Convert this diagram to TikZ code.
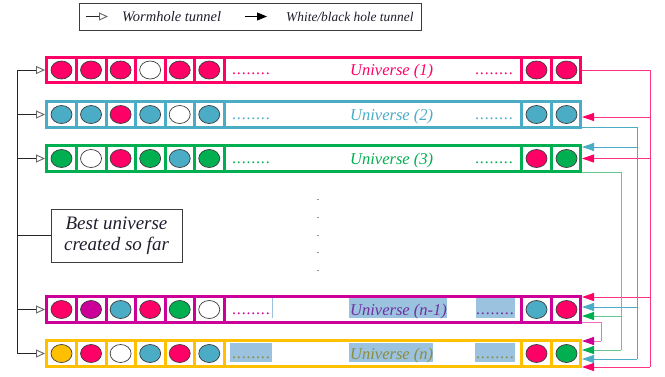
\documentclass[tikz,border=0pt]{standalone}
\usepackage{fontspec}
\setmainfont{Liberation Serif}
\newfontfamily\dotfont[LetterSpace=5.0]{Liberation Serif}
\usetikzlibrary{arrows.meta,shapes.geometric}
\definecolor{cpink}{RGB}{255,0,102}
\definecolor{cblue}{RGB}{75,172,198}
\definecolor{cgreen}{RGB}{0,176,80}
\definecolor{cmag}{RGB}{204,0,153}
\definecolor{cgold}{RGB}{255,192,0}
\definecolor{cpurple}{RGB}{112,48,160}
\definecolor{colive}{RGB}{140,140,60}
\definecolor{hl}{RGB}{155,194,222}
\definecolor{txt}{RGB}{30,30,45}
\definecolor{lpink}{RGB}{255,51,133}
\definecolor{lgreen}{RGB}{100,200,140}
\definecolor{lmag}{RGB}{240,110,200}
\definecolor{edge}{RGB}{60,60,60}
\newcommand\urow[4]{%
  \node[rowbox=#3] (#1) at (313.5,#2) {};
  \foreach \xx in {76.5,106,135.5,165,194.5,224,521.5,551.5}
    \draw[line width=3pt,#3] (\xx,#2-12.75) -- (\xx,#2+12.75);
  \foreach \c [count=\i] in {#4}{
    \pgfmathsetmacro\bx{\i<7 ? 61.5+29.55*(\i-1) : 536.5+30*(\i-7)}
    \node[ball=\c] (#1b\i) at (\bx,#2) {};
  }%
}
\begin{document}
\begin{tikzpicture}[x=1pt,y=-1pt,
  rowbox/.style={draw=#1, line width=3pt, minimum width=534pt, minimum height=25.5pt, inner sep=0pt, fill=white},
  ball/.style={ellipse, minimum width=21pt, minimum height=18pt, inner sep=0pt, draw=edge, line width=0.7pt, fill=#1},
  utext/.style={text=#1, font=\itshape\fontsize{16.5}{18}\selectfont, inner sep=0pt, anchor=base west},
  dtext/.style={text=#1, font=\dotfont\fontsize{16}{18}\selectfont, inner sep=0pt, anchor=base west},
  legtext/.style={text=txt, font=\itshape\fontsize{#1}{16}\selectfont, inner sep=0pt, anchor=west},
  worm/.style={draw=black!85, line width=0.9pt, -{Triangle[open,length=9pt,width=8pt,color=black!60,fill=white]}},
  tree/.style={draw=black!85, line width=0.9pt},
  conn/.style={draw=#1, line width=0.9pt},
  tip/.style={-{Triangle[length=12pt,width=8pt,color=#1]}},
  vdot/.style={font=\fontsize{10}{10}\selectfont, text=txt, inner sep=0pt}
]
\useasboundingbox (0,0) rectangle (665,376);

% legend
\node[draw=edge, line width=0.9pt, minimum width=342pt, minimum height=27pt, inner sep=0pt] (leg) at (250,16.5) {};
\coordinate (lw1) at (86,16.5);
\coordinate (lw2) at (108,16.5);
\coordinate (lb1) at (245,16.5);
\coordinate (lb2) at (267,16.5);
\draw[worm] (lw1) -- (lw2);
\draw[draw=black, line width=0.9pt, -{Triangle[length=10pt,width=8pt,color=black]}] (lb1) -- (lb2);
\node[legtext=14.5] (legw) at (122,17) {Wormhole tunnel};
\node[legtext=13.4] (legb) at (286,17) {White/black hole tunnel};

% rows
\urow{r1}{70}{cpink}{cpink,cpink,cpink,white,cpink,cpink,cpink,cpink}
\urow{r2}{114.5}{cblue}{cblue,cblue,cpink,cblue,white,cblue,cblue,cblue}
\urow{r3}{158.5}{cgreen}{cgreen,white,cpink,cgreen,cblue,cgreen,cpink,cgreen}
\urow{rn1}{309.5}{cmag}{cpink,cmag,cblue,cpink,cgreen,white,cblue,cpink}
\urow{rn}{353.5}{cgold}{cgold,cpink,white,cblue,cpink,cblue,cpink,cgreen}

% highlights
\fill[hl] (349,298) rectangle (447,318);
\fill[hl] (476,298) rectangle (515,318);
\fill[hl] (271.5,298) rectangle (273,318);
\fill[hl] (230,343) rectangle (272,362);
\fill[hl] (349,343) rectangle (433,362);
\fill[hl] (475,343) rectangle (515,362);

% row texts
\node[dtext=cpink] (d1a) at (232,74.5) {........};
\node[utext=cpink] (u1) at (350,75.5) {Universe (1)};
\node[dtext=cpink] (d1b) at (475,74.5) {........};
\node[dtext=cblue] (d2a) at (232,119) {........};
\node[utext=cblue] (u2) at (350,120) {Universe (2)};
\node[dtext=cblue] (d2b) at (475,119) {........};
\node[dtext=cgreen] (d3a) at (232,163) {........};
\node[utext=cgreen] (u3) at (350,164) {Universe (3)};
\node[dtext=cgreen] (d3b) at (475,163) {........};
\node[dtext=cmag] (dn1a) at (232,314) {........};
\node[utext=cpurple] (un1) at (350,315) {Universe (n-1)};
\node[dtext=cpurple] (dn1b) at (476,314) {........};
\node[dtext=colive] (dna) at (232,358) {........};
\node[utext=colive] (un) at (350,359) {Universe (n)};
\node[dtext=colive] (dnb) at (476,358) {........};

% vertical dots
\foreach \yy [count=\k] in {202,220,237.5,255,273}
  \node[vdot] (vd\k) at (318,\yy-1.5) {.};

% left tree
\coordinate (ttop) at (17,70);
\coordinate (tbot) at (17,353.5);
\draw[tree] (ttop) -- (tbot);
\node[draw=edge, line width=0.9pt, minimum width=131pt, minimum height=53pt, inner sep=0pt, align=center,
  text=txt, font=\itshape\fontsize{19}{21}\selectfont] (best) at (116.5,235.5) {Best universe\\created so far};
\draw[tree] (ttop |- best.west) -- (best.west);
\foreach \r in {r1,r2,r3,rn1,rn}
  \draw[worm] (ttop |- \r.west) -- (\r.west);

% right connectors: pink from universe 1
\coordinate (pv) at (650,70);
\draw[conn=lpink] (r1.east) -- (pv) -- (pv |- 0,367);
\foreach \r/\yy in {r2/117,r3/158.5,rn1/297,rn/367}
  \draw[conn=lpink, tip=cpink] (pv |- 0,\yy) -- (\r.east |- 0,\yy);

% blue from universe 2
\coordinate (bv) at (637,127);
\draw[conn=cblue] (r2.east |- bv) -- (bv) -- (bv |- 0,359);
\foreach \r/\yy in {r3/147,rn1/307,rn/359}
  \draw[conn=cblue, tip=cblue] (bv |- 0,\yy) -- (\r.east |- 0,\yy);

% green from universe 3
\coordinate (gv) at (621,172);
\draw[conn=lgreen] (r3.east |- gv) -- (gv) -- (gv |- 0,350);
\foreach \r/\yy in {rn1/316,rn/350}
  \draw[conn=lgreen, tip=cgreen] (gv |- 0,\yy) -- (\r.east |- 0,\yy);

% magenta from universe n-1
\coordinate (mv) at (601,322);
\coordinate (mb) at (601,341);
\draw[conn=lmag] (rn1.east |- mv) -- (mv) -- (mb);
\draw[conn=lmag, tip=cmag] (mb) -- (rn.east |- mb);
\end{tikzpicture}
\end{document}
